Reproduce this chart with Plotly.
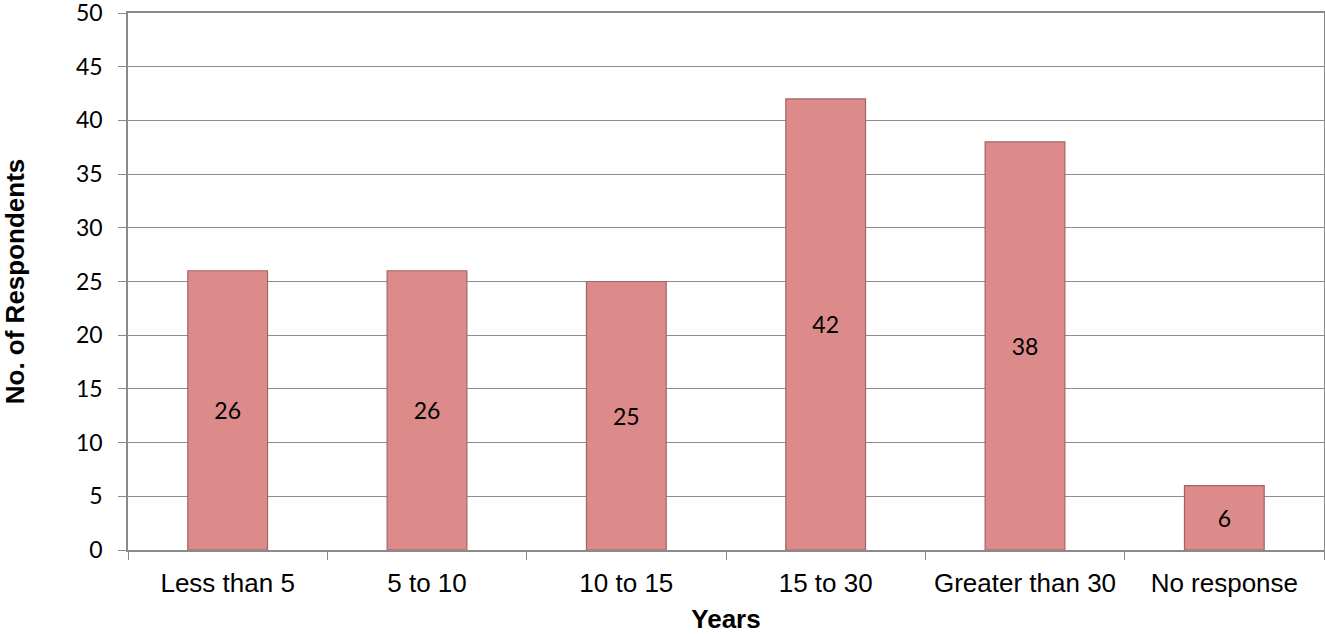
import plotly.graph_objects as go

categories = ["Less than 5", "5 to 10", "10 to 15", "15 to 30", "Greater than 30", "No response"]
respondents = [26, 26, 25, 42, 38, 6]
y_ticks = [0, 5, 10, 15, 20, 25, 30, 35, 40, 45, 50]

num_font = "Lato, Carlito, Calibri, sans-serif"
txt_font = "Liberation Sans, Arial, sans-serif"

fig = go.Figure(go.Bar(
    x=categories,
    y=respondents,
    width=0.4,
    marker=dict(color="#DC8A8A", line=dict(color="#A46464", width=1.2)),
    text=[str(v) for v in respondents],
    textposition="inside",
    insidetextanchor="middle",
    textangle=0,
    textfont=dict(family=num_font, size=23, color="#000000"),
    cliponaxis=False,
))

fig.update_layout(
    width=1325, height=634,
    margin=dict(l=128, r=1, t=13, b=84),
    plot_bgcolor="white", paper_bgcolor="white",
    showlegend=False,
    uniformtext=dict(minsize=23, mode="show"),
    xaxis=dict(
        automargin=False,
        tickson="boundaries", ticks="outside", ticklen=8, tickcolor="#8a8a8a", tickwidth=1.3,
        showline=True, linecolor="#8a8a8a", linewidth=1.5, mirror=True,
        showgrid=False,
        ticklabelstandoff=9,
        ticklabeloverflow="allow",
        tickfont=dict(family=txt_font, size=26, color="#000000"),
        title=dict(text="<b>Years</b>", font=dict(family=txt_font, size=26, color="#000000"), standoff=16),
    ),
    yaxis=dict(
        automargin=False,
        range=[0, 50], tickvals=y_ticks, ticks="outside", ticklen=8, tickcolor="#8a8a8a", tickwidth=1.3,
        showline=True, linecolor="#8a8a8a", linewidth=1.5, mirror=True,
        showgrid=True, gridcolor="#8c8c8c", gridwidth=1.3,
        ticklabelstandoff=11,
        ticklabeloverflow="allow",
        tickfont=dict(family=num_font, size=23, color="#000000"),
        title=dict(text="<b>No. of Respondents</b>", font=dict(family=txt_font, size=26, color="#000000"), standoff=46),
        zeroline=False,
    ),
)

fig.write_html(
    "out.html",
    config={"displayModeBar": False},
    post_script="document.body.style.margin='0';document.body.style.overflow='hidden';",
)
